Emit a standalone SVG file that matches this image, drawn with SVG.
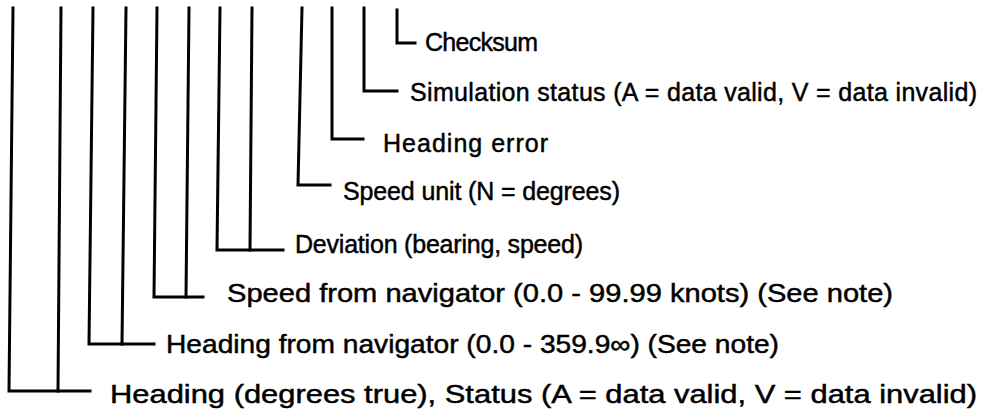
<svg xmlns="http://www.w3.org/2000/svg" width="989" height="414" viewBox="0 0 989 414">
<style>
.ln{fill:none;stroke:#000;stroke-width:3;stroke-linejoin:miter;stroke-linecap:square}
.t{font-family:"Liberation Sans",Arial,sans-serif;font-size:25px;fill:#000;stroke:#000;stroke-width:0.45}
</style>
<rect width="989" height="414" fill="#fff"/>
<g id="connectors">
<polyline class="ln" points="13,8 9,391 90,391"/>
<polyline class="ln" points="61,8 58,391"/>
<polyline class="ln" points="93,8 89,344 154,344"/>
<polyline class="ln" points="126,8 122,344"/>
<polyline class="ln" points="157,8 154,297 203,297"/>
<polyline class="ln" points="189,8 186,297"/>
<polyline class="ln" points="220,8 217,250 283,250"/>
<polyline class="ln" points="252,8 250,250"/>
<polyline class="ln" points="302,8 298,185 330,185"/>
<polyline class="ln" points="332,8 332,139 363,139"/>
<polyline class="ln" points="364,8 364,91 397,91"/>
<polyline class="ln" points="397,10 397,43 415,43"/>
</g>
<g id="checksum"><text class="t" x="425" y="51" textLength="113">Checksum</text></g>
<g id="simulation"><text class="t" x="410" y="101" textLength="567">Simulation status (A = data valid, V = data invalid)</text></g>
<g id="heading-error"><text class="t" x="383" y="152" textLength="165">Heading error</text></g>
<g id="speed-unit"><text class="t" x="343" y="200" textLength="277">Speed unit (N = degrees)</text></g>
<g id="deviation"><text class="t" x="295" y="253" textLength="288">Deviation (bearing, speed)</text></g>
<g id="speed-nav"><text class="t" x="227" y="302" textLength="666" lengthAdjust="spacingAndGlyphs">Speed from navigator (0.0 - 99.99 knots) (See note)</text></g>
<g id="heading-nav"><text class="t" x="166" y="353" textLength="613" lengthAdjust="spacingAndGlyphs">Heading from navigator (0.0 - 359.9∞) (See note)</text></g>
<g id="heading"><text class="t" x="110" y="403" textLength="867" lengthAdjust="spacingAndGlyphs">Heading (degrees true), Status (A = data valid, V = data invalid)</text></g>
</svg>
